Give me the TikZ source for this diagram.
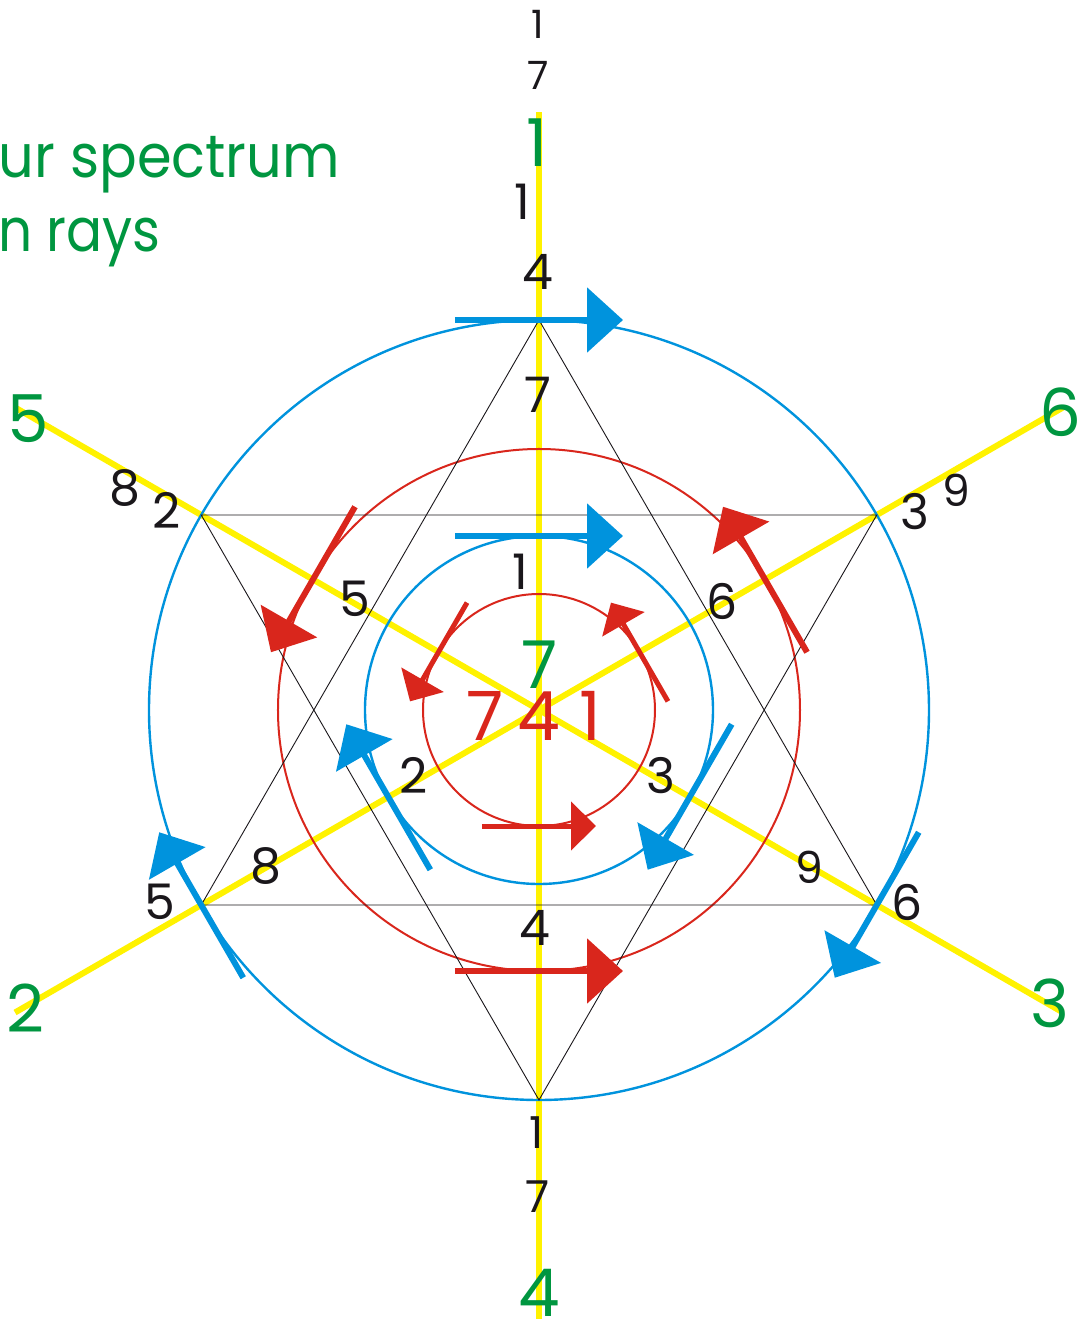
\documentclass[tikz,border=0pt]{standalone}
\usepackage{fontspec}
\setmainfont{Poppins}
\usetikzlibrary{arrows.meta}
\definecolor{cblue}{RGB}{0,147,221}
\definecolor{cred}{RGB}{217,38,28}
\definecolor{cgreen}{RGB}{0,150,64}
\definecolor{cyellow}{RGB}{255,242,0}
\definecolor{cblack}{RGB}{26,23,27}
\begin{document}
\begin{tikzpicture}[x=1pt,y=1pt,
  ray/.style={cyellow,line width=6pt},
  hexline/.style={cblack,line width=0.9pt,line join=miter},
  bcirc/.style={cblue,line width=2.4pt},
  rcirc/.style={cred,line width=2pt},
  barrow/.style={cblue,line width=6pt,-{Triangle[length=36pt,width=64pt]}},
  rarrow/.style={cred,line width=6pt,-{Triangle[length=36pt,width=64pt]}},
  rsarrow/.style={cred,line width=5pt,-{Triangle[length=25pt,width=48pt]}},
  num/.style={text=cblack,font=\fontsize{49}{49}\selectfont,inner sep=0pt},
  numsm/.style={text=cblack,font=\fontsize{39}{39}\selectfont,inner sep=0pt},
  numbot/.style={text=cblack,font=\fontsize{44}{44}\selectfont,inner sep=0pt},
  gnum/.style={text=cgreen,font=\fontsize{66}{66}\selectfont,inner sep=0pt},
  rnum/.style={text=cred,font=\fontsize{68}{68}\selectfont,inner sep=0pt},
  title/.style={text=cgreen,font=\fontsize{60}{60}\selectfont,inner sep=0pt,anchor=base east}
]
\useasboundingbox (-539,-609) rectangle (543,710);
\fill[white] (-539,-609) rectangle (543,710);

% rays
\draw[ray] (0,-609) -- (0,598);
\draw[ray] (150:605) -- (-30:605);
\draw[ray] (210:605) -- (30:605);

% circles
\draw[bcirc] (0,0) circle[radius=390];
\draw[rcirc] (0,0) circle[radius=261];
\draw[bcirc] (0,0) circle[radius=174];
\draw[rcirc] (0,0) circle[radius=116];

% hexagram
\draw[hexline] (90:390) -- (210:390) -- (330:390) -- cycle;
\draw[hexline] (270:390) -- (30:390) -- (150:390) -- cycle;

% blue arrows (clockwise)
\foreach \t in {90,210,-30}{
  \draw[barrow,shift={(\t:390)}] (\t+90:84) -- (\t-90:84);
  \draw[barrow,shift={(\t:174)}] (\t+90:84) -- (\t-90:84);
}
% red arrows (counter-clockwise)
\foreach \t in {270,30,150}{
  \draw[rarrow,shift={(\t:261)}] (\t-90:84) -- (\t+90:84);
  \draw[rsarrow,shift={(\t:116)}] (\t-90:57) -- (\t+90:57);
}

% title
\node[title,xscale=0.93] (t1) at (-199,532) {ur spectrum};
\node[title,xscale=0.89] (t2) at (-378,458) {n rays};

% green ray labels
\node[gnum] (g1) at (-2,567) {1};
\node[gnum] (g5) at (-511,291) {5};
\node[gnum] (g6) at (521,298) {6};
\node[gnum] (g2) at (-514,-298) {2};
\node[gnum] (g3) at (511,-293) {3};
\node[gnum] (g4) at (0,-583) {4};
\node[gnum] (g7) at (1,45) {7};

% red centre
\node[rnum] (r7) at (-54,-6) {7};
\node[rnum] (r4) at (0,-6) {4};
\node[rnum] (r1) at (51,-6) {1};

% black numbers
\node[numsm] (a1) at (-1,686) {1};
\node[numsm] (a2) at (-1,635) {7};
\node[num] (b1) at (-17,508) {1};
\node[num] (b2) at (-1,438) {4};
\node[num] (b3) at (-1,315) {7};
\node[num] (b4) at (-414,222) {8};
\node[num] (b5) at (-372,200) {2};
\node[num] (b6) at (376,198) {3};
\node[numbot] (b7) at (417,220) {9};
\node[num] (b8) at (-184,111) {5};
\node[num] (b9) at (183,109) {6};
\node[num] (b10) at (-19,138) {1};
\node[num] (b11) at (-125,-65) {2};
\node[num] (b12) at (122,-66) {3};
\node[num] (b13) at (-273,-156) {8};
\node[num] (b14) at (-379,-192) {5};
\node[numbot] (b15) at (270,-157) {9};
\node[num] (b16) at (368,-192) {6};
\node[num] (b17) at (-4,-218) {4};
\node[numbot] (b18) at (-2,-423) {1};
\node[numbot] (b19) at (-1,-487) {7};
\end{tikzpicture}
\end{document}
